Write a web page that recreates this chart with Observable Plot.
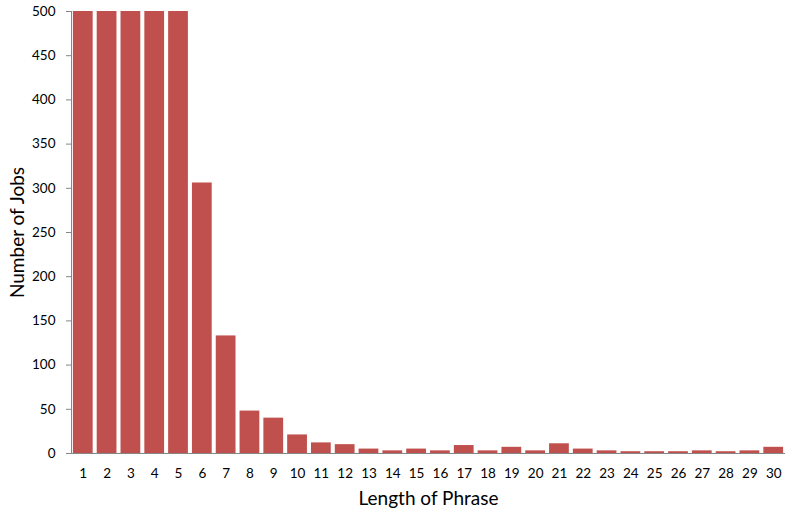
<!DOCTYPE html>
<html><head><meta charset="utf-8">
<script src="https://cdn.jsdelivr.net/npm/d3@7"></script>
<script src="https://cdn.jsdelivr.net/npm/@observablehq/plot@0.6"></script>
<style>body{margin:0;background:#fff;} svg{display:block;}</style>
</head><body><div id="chart"></div>
<script>
const lengths = Array.from({length:30},(_, i)=>i+1);
const jobs = [500,500,500,500,500,306,133,48,40,21,12,10,5,3,5,3,9,3,7,3,11,5,3,2,2,2,3,2,3,7];
const yTicks = [0,50,100,150,200,250,300,350,400,450,500];
const data = lengths.map((l,i)=>({len:l, jobs:jobs[i]}));
const font = "Lato, 'Open Sans', sans-serif";
const chart = Plot.plot({
  width:795, height:514,
  marginTop:11, marginBottom:61, marginLeft:71, marginRight:10,
  style:{fontFamily:font, background:"#fff", color:"#000"},
  x:{type:"band", domain:lengths, paddingInner:0.17, paddingOuter:0.08, round:false},
  y:{domain:[0,500], clamp:true},
  marks:[
    Plot.barY(data,{x:"len", y:"jobs", fill:"#C0504D"}),
    Plot.axisY({ticks:yTicks, tickSize:5, tickPadding:11, fontSize:13.5, stroke:"#868686", color:"#000", label:null}),
    Plot.axisX({tickSize:0, tickPadding:15, fontSize:13.5, label:null}),
    Plot.frame({anchor:"left", stroke:"#868686"}),
    Plot.ruleY([0],{stroke:"#868686"}),
    Plot.text(["Number of Jobs"],{frameAnchor:"left", dx:-54, rotate:-90, textAnchor:"middle", fontSize:19, fill:"#000"}),
    Plot.text(["Length of Phrase"],{frameAnchor:"bottom", dy:51, fontSize:19, fill:"#000"})
  ]
});
document.getElementById("chart").appendChild(chart);
</script></body></html>
